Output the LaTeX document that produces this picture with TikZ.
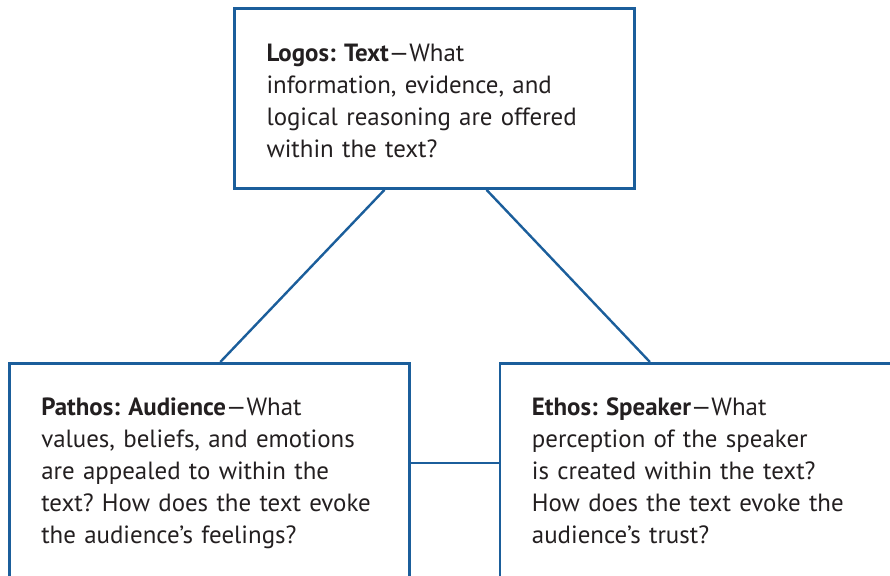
\documentclass[tikz,border=0pt]{standalone}
\usepackage{fontspec}
\setmainfont{PT Sans}
\usetikzlibrary{positioning}
\definecolor{rhetblue}{HTML}{1B5E9B}
\definecolor{inkgray}{HTML}{231F20}
\frenchspacing

\begin{document}
\begin{tikzpicture}[
		x=1pt,y=-1pt,
		node distance=88pt,
		appeal/.style={draw=rhetblue,line width=2.6pt,rectangle,minimum width=400pt,text width=336pt,align=left,text=inkgray,font=\fontsize{24.9}{32}\selectfont},
		link/.style={color=rhetblue,line width=2.4pt}
		]
		\useasboundingbox (0,0) rectangle (890,575);
		\clip (0,0) rectangle (890,575);
		\node[appeal,minimum height=180pt] (logos) at (434.5,98.5)
		{\strut\textbf{Logos: Text}---What\\
			information, evidence, and\\
			logical reasoning are offered\\
			within the text?};
		\node[appeal,minimum height=219pt,anchor=north west] (pathos) at (8,362)
		{\strut\textbf{Pathos: Audience}---What\\
			values, beliefs, and emotions\\
			are appealed to within the\\
			text? How does the text evoke\\
			the audience’s feelings?\strut};
		\node[appeal,minimum height=219pt,right=88pt of pathos] (ethos)
		{\strut\textbf{Ethos: Speaker}---What\\
			perception of the speaker\\
			is created within the text?\\
			How does the text evoke the\\
			audience’s trust?\strut};
		\path [link]
		([xshift=-50pt]logos.south) edge ([xshift=11pt]pathos.north)
		([xshift=52pt]logos.south) edge ([xshift=-50pt]ethos.north)
		([yshift=10pt]pathos.east) edge ([yshift=10pt]ethos.west);
	\end{tikzpicture}
\end{document}
